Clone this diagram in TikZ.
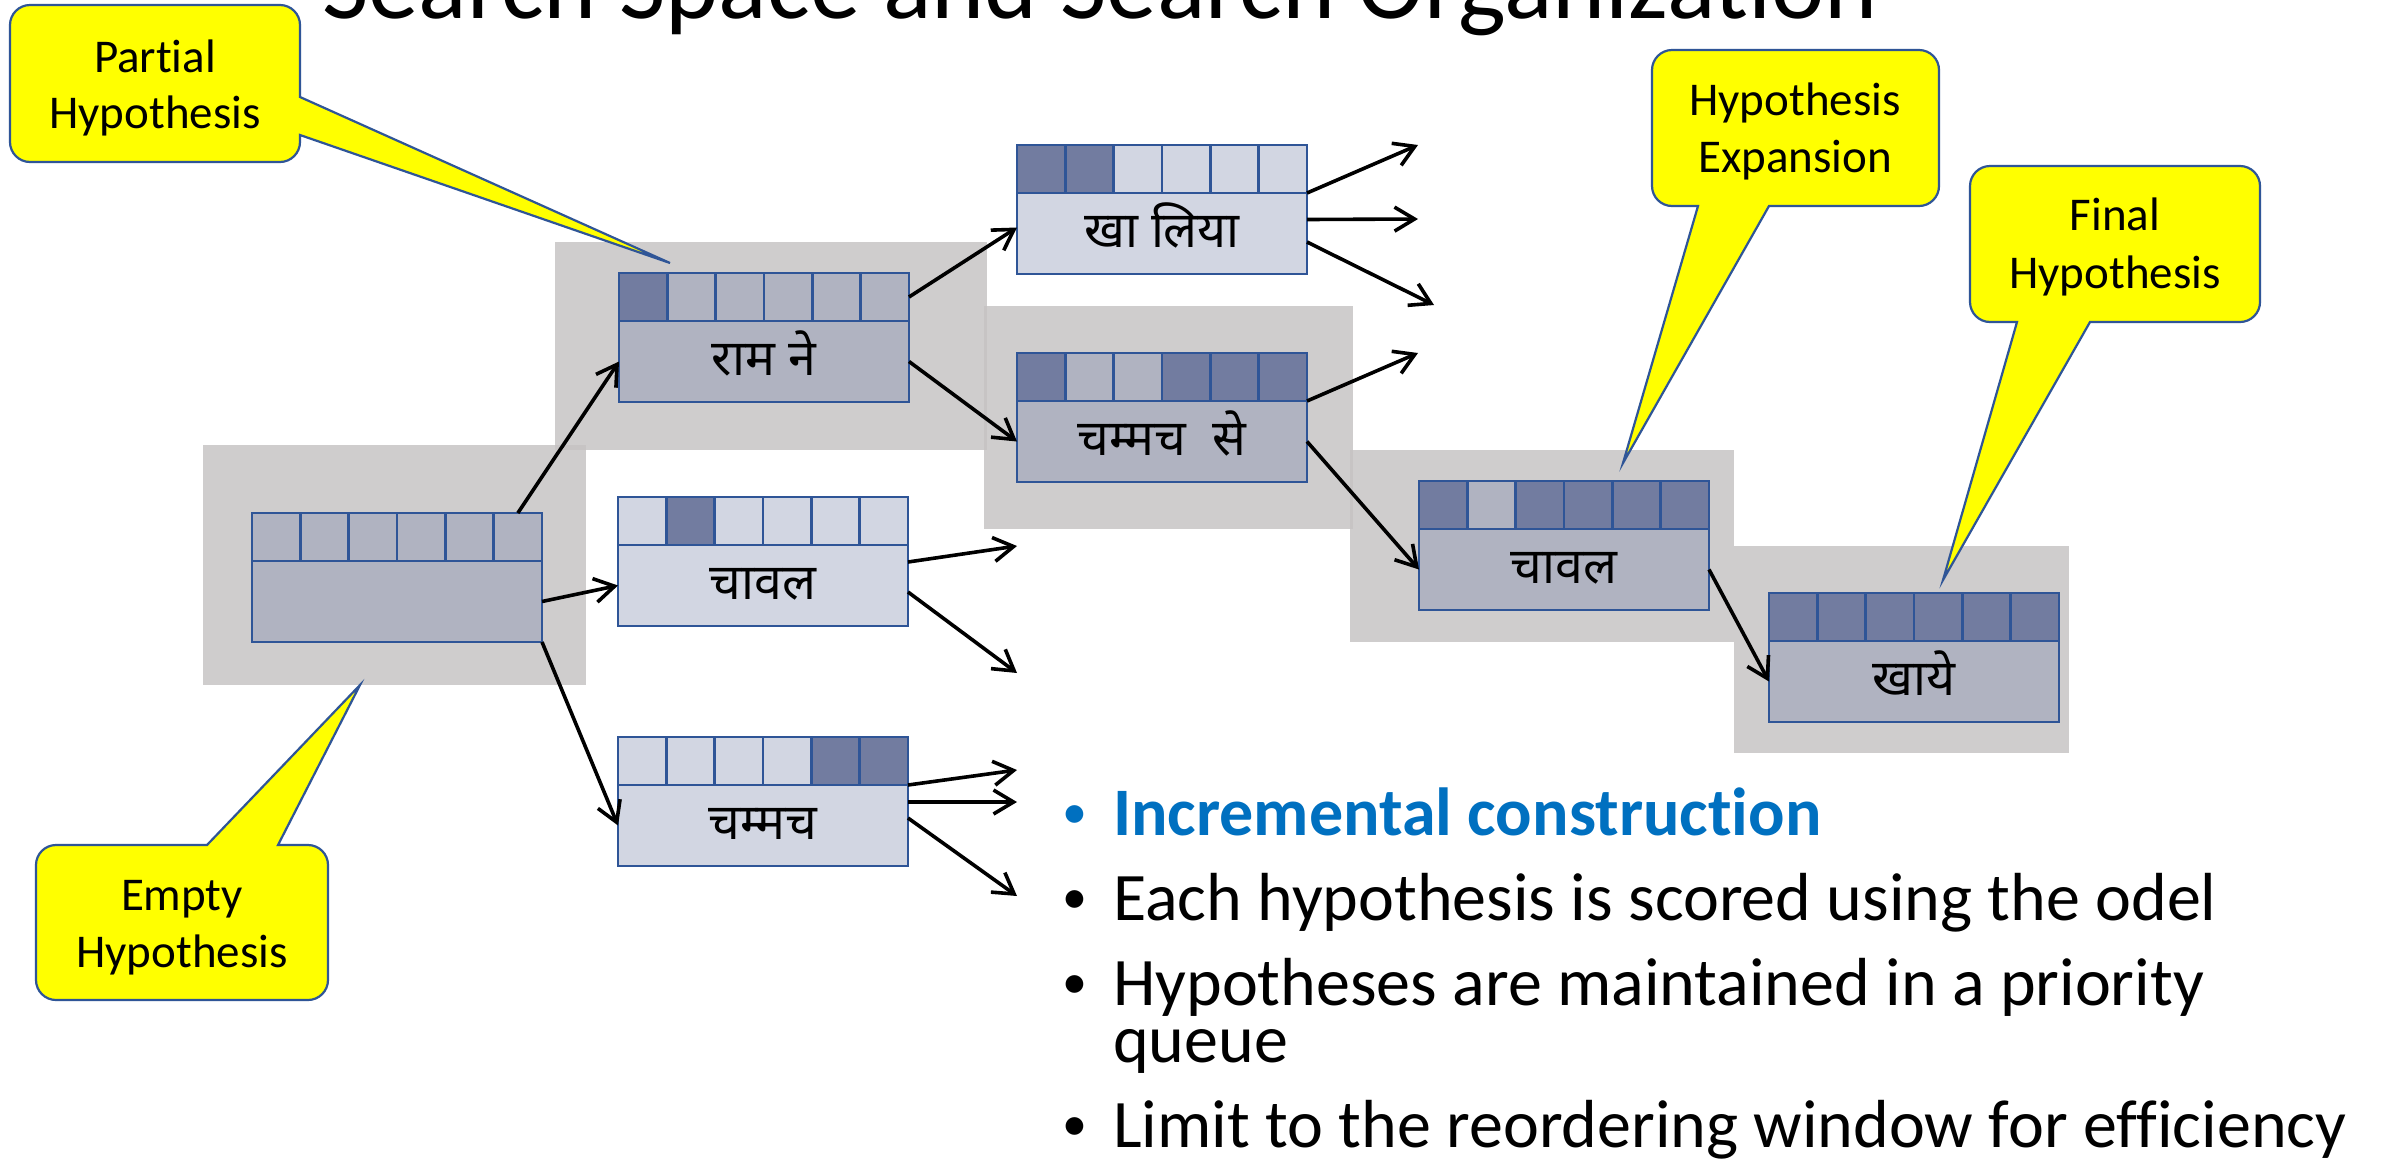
\documentclass[tikz,border=0pt]{standalone}
\usepackage{fontspec}
\setmainfont{Carlito}[Ligatures=NoCommon]
\newfontfamily\dev[Script=Devanagari]{Noto Sans}
\usetikzlibrary{arrows.meta}

\definecolor{bggray}{RGB}{198,195,195}
\definecolor{hlight}{RGB}{210,214,226}
\definecolor{hmid}{RGB}{176,179,193}
\definecolor{hdark}{RGB}{114,124,160}
\definecolor{hypborder}{RGB}{47,85,151}
\definecolor{callyellow}{RGB}{255,255,0}
\definecolor{accentblue}{RGB}{0,112,192}

\tikzset{
  cellbox/.style={draw=hypborder, line width=2.5pt, minimum width=48.33pt,
    minimum height=48pt, inner sep=0pt, outer sep=0pt},
  bodybox/.style={draw=hypborder, line width=2.5pt, minimum width=290pt,
    minimum height=81pt, inner sep=0pt, outer sep=0pt,
    font=\dev\fontsize{50}{60}\selectfont, text height=34pt, text depth=6pt},
  arr/.style={line width=3.6pt, -{Straight Barb[length=20pt,width=24pt]}},
  bgbox/.style={fill=bggray, fill opacity=0.83},
  callout/.style={fill=callyellow, draw=hypborder, line width=2.2pt, line join=miter},
  calltext/.style={font=\fontsize{47}{56}\selectfont, inner sep=0pt, anchor=base},
  bullettext/.style={font=\fontsize{68}{80}\selectfont, inner sep=0pt, anchor=base west},
  bulletdot/.style={font=\fontsize{50}{60}\selectfont, inner sep=0pt, anchor=base},
}

% one hypothesis: #1 name, #2 left x, #3 top y, #4 body fill,
% #5 fills of the six coverage cells, #6 partial translation
\newcommand\hypbox[6]{%
  \foreach \cf [count=\ci] in {#5}{%
    \node[cellbox, fill=\cf, anchor=north west] (#1c\ci) at ({#2+(\ci-1)*48.333}, #3) {};
  }
  \node[bodybox, fill=#4, anchor=north west] (#1) at (#2, #3+48) {#6};
}

\begin{document}
\begin{tikzpicture}[x=1pt, y=-1pt]
\useasboundingbox (0,0) rectangle (2389,1160);
\fill[white] (0,0) rectangle (2389,1160);
\clip (0,0) rectangle (2389,1160);

% title (cut by the top edge)
\node[anchor=base west, inner sep=0pt, font=\fontsize{101}{120}\selectfont] (title)
  at (322,18) {Search Space and Search Organization};

% shaded hypotheses on the best path
\fill[bgbox] (203,445) rectangle (586,685);
\fill[bgbox] (555,242) rectangle (987,450);
\fill[bgbox] (984,306) rectangle (1353,529);
\fill[bgbox] (1350,450) rectangle (1734,642);
\fill[bgbox] (1734,546) rectangle (2069,753);

% hypotheses
\hypbox{e0}{252}{513}{hmid}{hmid,hmid,hmid,hmid,hmid,hmid}{}
\hypbox{rn}{619}{273}{hmid}{hdark,hmid,hmid,hmid,hmid,hmid}{राम ने}
\hypbox{cv}{618}{497}{hlight}{hlight,hdark,hlight,hlight,hlight,hlight}{चावल}
\hypbox{cm}{618}{737}{hlight}{hlight,hlight,hlight,hlight,hdark,hdark}{चम्मच}
\hypbox{kl}{1017}{145}{hlight}{hdark,hdark,hlight,hlight,hlight,hlight}{खा लिया}
\hypbox{cs}{1017}{353}{hmid}{hdark,hmid,hmid,hdark,hdark,hdark}{चम्मच~ से}
\hypbox{c2}{1419}{481}{hmid}{hdark,hmid,hdark,hdark,hdark,hdark}{चावल}
\hypbox{kh}{1769}{593}{hmid}{hdark,hdark,hdark,hdark,hdark,hdark}{खाये}

% open ends of expansions
\coordinate (k1) at (1418,145);
\coordinate (k2) at (1418,219);
\coordinate (k3) at (1434,305);
\coordinate (s1) at (1418,353);
\coordinate (v1) at (1017,546);
\coordinate (v2) at (1017,673);
\coordinate (m1) at (1017,770);
\coordinate (m2) at (1017,802);
\coordinate (m3) at (1017,896);

% expansions
\draw[arr] (e0c6.north) -- (rn.west);
\draw[arr] (e0.east) -- (cv.west);
\draw[arr] (e0.south east) -- (cm.west);
\draw[arr] (rnc6.east) -- ([yshift=6pt]kl.west);
\draw[arr] (rn.east) -- (cs.west);
\draw[arr] (kl.north east) -- (k1);
\draw[arr] ([yshift=14pt]kl.east) -- (k2);
\draw[arr] ([yshift=-8.5pt]kl.east) -- (k3);
\draw[arr] (cs.north east) -- (s1);
\draw[arr] (cs.east) -- (c2.west);
\draw[arr] ([yshift=23.5pt]cv.east) -- (v1);
\draw[arr] ([yshift=-6.5pt]cv.east) -- (v2);
\draw[arr] (cm.north east) -- (m1);
\draw[arr] ([yshift=23.5pt]cm.east) -- (m2);
\draw[arr] ([yshift=7.5pt]cm.east) -- (m3);
\draw[arr] (c2.east) -- (kh.west);

% callouts
\draw[callout] (30,5) -- (280,5) .. controls (291,5) and (300,14) .. (300,25)
  -- (300,97) -- (670,263) -- (300,135) -- (300,142)
  .. controls (300,153) and (291,162) .. (280,162) -- (30,162)
  .. controls (19,162) and (10,153) .. (10,142) -- (10,25)
  .. controls (10,14) and (19,5) .. (30,5) -- cycle;
\node[calltext] (pa1) at (155,72) {Partial};
\node[calltext] (pa2) at (155,128) {Hypothesis};

\draw[callout] (1672,50) -- (1919,50) .. controls (1930,50) and (1939,59) .. (1939,70)
  -- (1939,186) .. controls (1939,197) and (1930,206) .. (1919,206)
  -- (1769,206) -- (1623,463) -- (1698,206) -- (1672,206)
  .. controls (1661,206) and (1652,197) .. (1652,186) -- (1652,70)
  .. controls (1652,59) and (1661,50) .. (1672,50) -- cycle;
\node[calltext] (ex1) at (1795,115) {Hypothesis};
\node[calltext] (ex2) at (1795,172) {Expansion};

\draw[callout] (1990,166) -- (2240,166) .. controls (2251,166) and (2260,175) .. (2260,186)
  -- (2260,302) .. controls (2260,313) and (2251,322) .. (2240,322)
  -- (2090,322) -- (1943,580) -- (2017,322) -- (1990,322)
  .. controls (1979,322) and (1970,313) .. (1970,302) -- (1970,186)
  .. controls (1970,175) and (1979,166) .. (1990,166) -- cycle;
\node[calltext] (fi1) at (2115,230) {Final};
\node[calltext] (fi2) at (2115,288) {Hypothesis};

\draw[callout] (56,845) -- (207,845) -- (360,685) -- (278,845) -- (308,845)
  .. controls (319,845) and (328,854) .. (328,865) -- (328,980)
  .. controls (328,991) and (319,1000) .. (308,1000) -- (56,1000)
  .. controls (45,1000) and (36,991) .. (36,980) -- (36,865)
  .. controls (36,854) and (45,845) .. (56,845) -- cycle;
\node[calltext] (em1) at (182,910) {Empty};
\node[calltext] (em2) at (182,967) {Hypothesis};

% bullet list
\node[bulletdot, text=accentblue] (b1) at (1075,828) {•};
\node[bullettext, text=accentblue, font=\fontsize{68}{80}\selectfont\bfseries] (t1) at (1113,835) {Incremental construction};
\node[bulletdot] (b2) at (1075,913) {•};
\node[bullettext] (t2) at (1113,920) {Each hypothesis is scored using the odel};
\node[bulletdot] (b3) at (1075,998) {•};
\node[bullettext] (t3) at (1113,1005) {Hypotheses are maintained in a priority};
\node[bullettext] (t3b) at (1113,1062) {queue};
\node[bulletdot] (b4) at (1075,1140) {•};
\node[bullettext] (t4) at (1113,1147) {Limit to the reordering window for efficiency};
\end{tikzpicture}
\end{document}
